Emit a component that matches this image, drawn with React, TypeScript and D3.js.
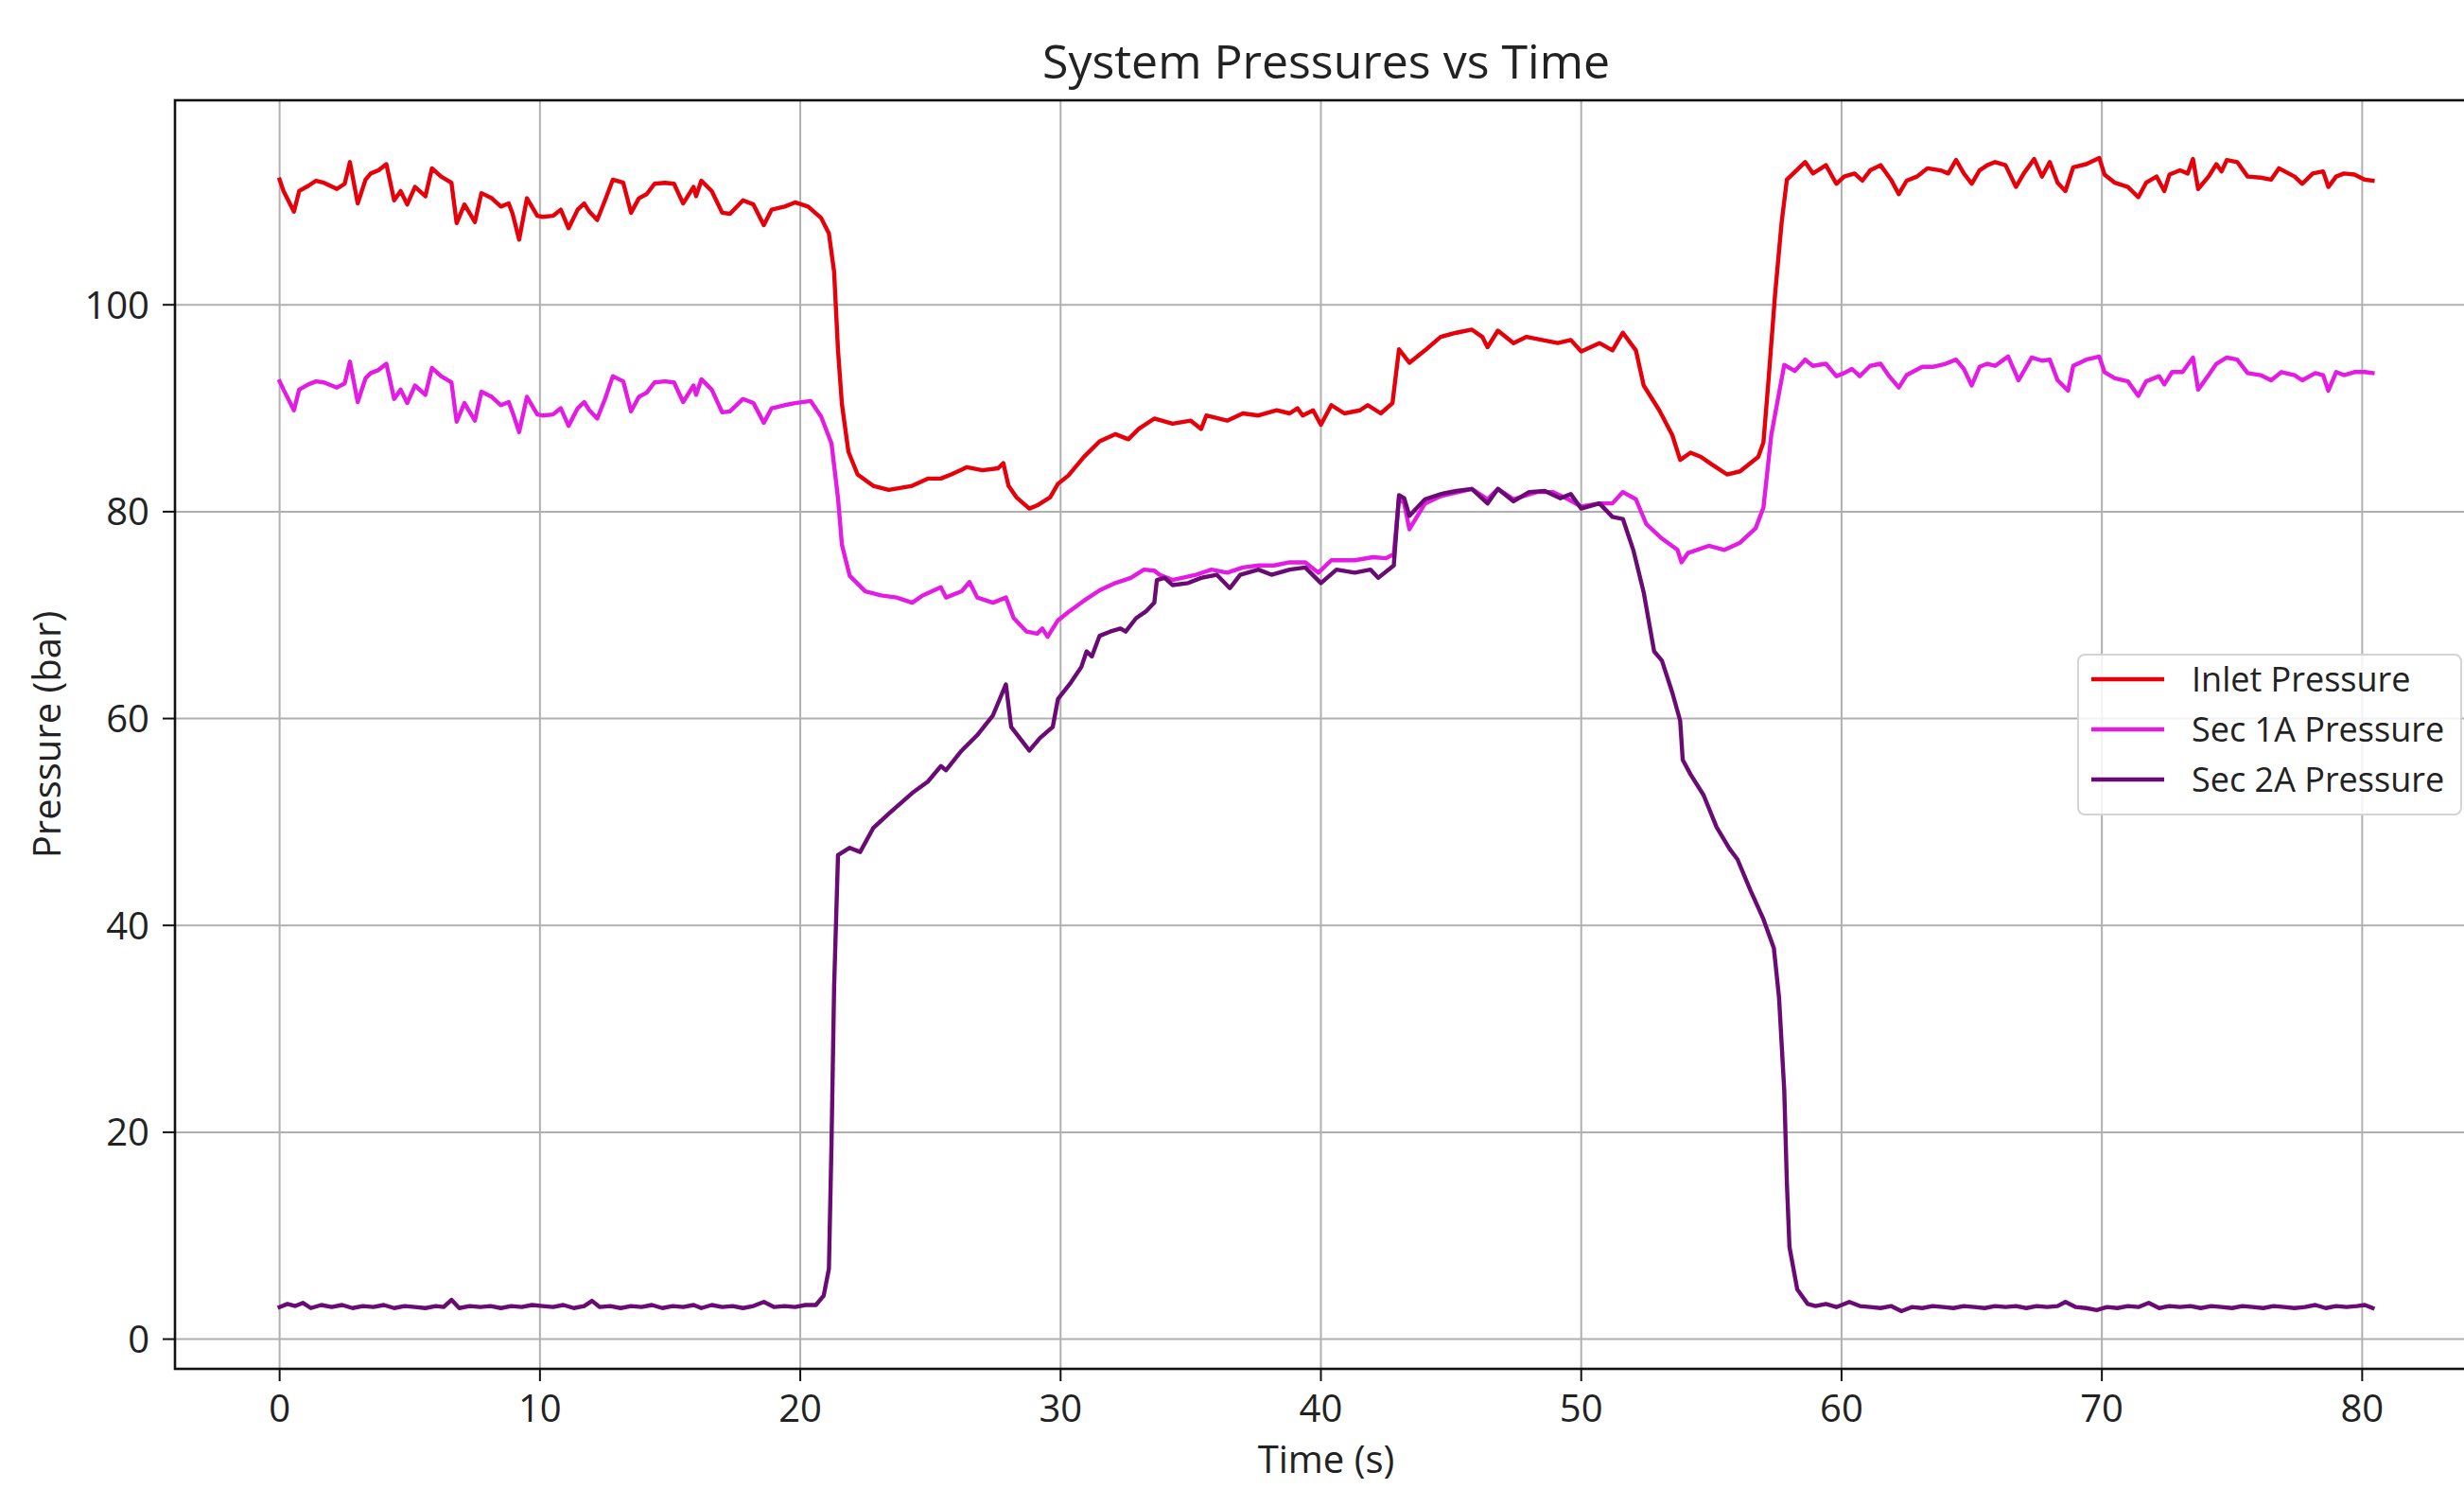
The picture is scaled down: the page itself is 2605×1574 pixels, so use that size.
import React from "react";
import * as d3 from "d3";

// Figure size and axes box (pixels)
const WIDTH = 2605;
const HEIGHT = 1574;
const AXES = { left: 185, top: 106, right: 2619, bottom: 1447 };
const FONT = "'Open Sans', 'DejaVu Sans', sans-serif";

const xTicks = [0, 10, 20, 30, 40, 50, 60, 70, 80];
const yTicks = [0, 20, 40, 60, 80, 100];

// [time (s), pressure (bar)]
const inletPressure: [number, number][] = [
  [0, 112.1], [0.15, 111], [0.55, 109], [0.75, 111], [1.1, 111.5], [1.4, 112], [1.7, 111.8], [2.2, 111.2],
  [2.5, 111.7], [2.7, 113.8], [3.0, 109.8], [3.3, 112.1], [3.5, 112.7], [3.8, 113], [4.1, 113.6], [4.4, 110.1],
  [4.65, 111], [4.9, 109.7], [5.2, 111.4], [5.6, 110.5], [5.85, 113.2], [6.2, 112.4], [6.6, 111.8], [6.8, 107.9],
  [7.1, 109.7], [7.5, 108], [7.75, 110.8], [8.15, 110.3], [8.5, 109.5], [8.8, 109.8], [8.95, 108.8], [9.2, 106.3],
  [9.5, 110.3], [9.9, 108.6], [10.1, 108.5], [10.5, 108.6], [10.8, 109.2], [11.1, 107.4], [11.45, 109.2], [11.7, 109.8],
  [11.9, 109], [12.2, 108.2], [12.5, 110.1], [12.8, 112.1], [13.2, 111.8], [13.5, 108.9], [13.8, 110.3], [14.1, 110.7],
  [14.4, 111.7], [14.8, 111.8], [15.15, 111.7], [15.5, 109.8], [15.9, 111.4], [16.0, 110.5], [16.2, 112], [16.6, 111],
  [17.0, 108.9], [17.3, 108.8], [17.8, 110.1], [18.2, 109.7], [18.6, 107.7], [18.9, 109.2], [19.4, 109.5], [19.8, 109.9],
  [20.3, 109.5], [20.8, 108.4], [21.1, 106.9], [21.3, 103.2], [21.45, 95.6], [21.6, 90.4], [21.85, 85.8], [22.2, 83.6],
  [22.8, 82.5], [23.4, 82.1], [24.3, 82.5], [24.9, 83.2], [25.4, 83.2], [25.8, 83.6], [26.4, 84.3], [27.0, 84.0],
  [27.6, 84.2], [27.8, 84.7], [28.0, 82.5], [28.3, 81.4], [28.8, 80.3], [29.1, 80.6], [29.6, 81.4], [29.9, 82.7],
  [30.3, 83.5], [30.9, 85.3], [31.5, 86.8], [32.1, 87.5], [32.6, 87.0], [33.0, 88.0], [33.6, 89.0], [34.3, 88.5],
  [35.0, 88.8], [35.4, 88.0], [35.6, 89.3], [36.4, 88.8], [37.0, 89.5], [37.6, 89.3], [38.3, 89.8], [38.8, 89.5],
  [39.1, 90.0], [39.3, 89.3], [39.7, 89.8], [40.0, 88.4], [40.4, 90.3], [40.9, 89.5], [41.5, 89.8], [41.8, 90.3],
  [42.3, 89.5], [42.75, 90.5], [43.0, 95.7], [43.4, 94.4], [44.0, 95.6], [44.6, 96.9], [45.2, 97.3], [45.8, 97.6],
  [46.2, 96.9], [46.4, 95.9], [46.8, 97.5], [47.4, 96.3], [47.9, 96.9], [48.5, 96.6], [49.1, 96.3], [49.6, 96.6],
  [50.0, 95.5], [50.7, 96.3], [51.2, 95.6], [51.6, 97.3], [52.1, 95.6], [52.4, 92.2], [53.0, 89.8], [53.5, 87.4],
  [53.8, 85.0], [54.2, 85.7], [54.6, 85.3], [55.0, 84.6], [55.6, 83.6], [56.1, 83.9], [56.8, 85.3], [57.0, 86.7],
  [57.2, 92.9], [57.45, 101.1], [57.7, 108], [57.9, 112.1], [58.6, 113.8], [58.9, 112.7], [59.4, 113.5], [59.8, 111.7],
  [60.1, 112.4], [60.5, 112.7], [60.8, 112.0], [61.1, 113.0], [61.5, 113.5], [61.9, 112.1], [62.2, 110.7], [62.5, 112.0],
  [62.9, 112.4], [63.3, 113.2], [63.8, 113.0], [64.1, 112.7], [64.4, 114.0], [64.7, 112.7], [65.0, 111.7], [65.3, 113.0],
  [65.6, 113.5], [65.9, 113.8], [66.3, 113.5], [66.7, 111.4], [67.0, 112.7], [67.4, 114.1], [67.7, 112.4], [68.0, 113.8],
  [68.3, 111.8], [68.6, 111.0], [68.9, 113.3], [69.4, 113.6], [69.9, 114.2], [70.1, 112.6], [70.5, 111.8], [71.0, 111.4],
  [71.4, 110.4], [71.7, 111.8], [72.1, 112.4], [72.4, 111.0], [72.6, 112.6], [73.0, 113.0], [73.3, 112.7], [73.5, 114.1],
  [73.7, 111.2], [74.1, 112.4], [74.4, 113.6], [74.6, 112.9], [74.8, 114.0], [75.2, 113.8], [75.6, 112.4], [76.1, 112.3],
  [76.5, 112.1], [76.8, 113.2], [77.4, 112.4], [77.7, 111.7], [78.1, 112.7], [78.5, 112.9], [78.7, 111.4], [79.0, 112.4],
  [79.3, 112.7], [79.7, 112.6], [80.1, 112.1], [80.4, 112.0],
];

const sec1APressure: [number, number][] = [
  [0, 92.6], [0.15, 91.8], [0.55, 89.8], [0.75, 91.8], [1.1, 92.3], [1.4, 92.6], [1.7, 92.5], [2.2, 92],
  [2.5, 92.4], [2.7, 94.5], [3.0, 90.6], [3.3, 92.9], [3.5, 93.4], [3.8, 93.7], [4.1, 94.3], [4.4, 90.9],
  [4.65, 91.8], [4.9, 90.5], [5.2, 92.2], [5.6, 91.3], [5.85, 93.9], [6.2, 93.1], [6.6, 92.5], [6.8, 88.7],
  [7.1, 90.5], [7.5, 88.8], [7.75, 91.6], [8.15, 91.1], [8.5, 90.3], [8.8, 90.6], [8.95, 89.6], [9.2, 87.7],
  [9.5, 91.1], [9.9, 89.4], [10.1, 89.3], [10.5, 89.4], [10.8, 90], [11.1, 88.3], [11.45, 90], [11.7, 90.6],
  [11.9, 89.8], [12.2, 89], [12.5, 90.9], [12.8, 93.1], [13.2, 92.6], [13.5, 89.7], [13.8, 91.1], [14.1, 91.5],
  [14.4, 92.5], [14.8, 92.6], [15.15, 92.5], [15.5, 90.6], [15.9, 92.2], [16.0, 91.3], [16.2, 92.8], [16.6, 91.8],
  [17.0, 89.6], [17.3, 89.7], [17.8, 90.9], [18.2, 90.5], [18.6, 88.6], [18.9, 90], [19.4, 90.3], [19.8, 90.5],
  [20.4, 90.7], [20.8, 89.2], [21.2, 86.6], [21.45, 81.3], [21.6, 76.8], [21.9, 73.8], [22.5, 72.3], [23.1, 71.9],
  [23.7, 71.7], [24.3, 71.2], [24.7, 71.9], [25.4, 72.7], [25.6, 71.7], [26.2, 72.3], [26.5, 73.2], [26.8, 71.7],
  [27.4, 71.2], [27.9, 71.7], [28.2, 69.7], [28.7, 68.4], [29.1, 68.2], [29.3, 68.7], [29.5, 67.9], [29.9, 69.5],
  [30.3, 70.3], [30.9, 71.4], [31.5, 72.4], [32.1, 73.1], [32.7, 73.6], [33.2, 74.4], [33.6, 74.3], [33.8, 73.9],
  [34.3, 73.4], [35.2, 73.9], [35.8, 74.4], [36.4, 74.1], [37.0, 74.6], [37.6, 74.8], [38.2, 74.8], [38.8, 75.1],
  [39.4, 75.1], [39.9, 74.1], [40.4, 75.3], [41.3, 75.3], [42.0, 75.6], [42.5, 75.5], [42.8, 75.9], [43.0, 81.3],
  [43.2, 80.8], [43.4, 78.3], [44.0, 80.8], [44.6, 81.5], [45.8, 82.2], [46.4, 81.2], [46.8, 82.2], [47.4, 81.2],
  [48.3, 81.9], [48.9, 81.9], [49.5, 81.2], [50.0, 80.5], [50.7, 80.8], [51.2, 80.8], [51.6, 81.9], [52.1, 81.2],
  [52.5, 78.8], [53.1, 77.4], [53.7, 76.3], [53.85, 75.1], [54.1, 76.0], [54.9, 76.7], [55.5, 76.3], [56.1, 77.0],
  [56.7, 78.4], [57.0, 80.4], [57.3, 87.4], [57.8, 94.2], [58.2, 93.6], [58.6, 94.7], [58.9, 94.1], [59.4, 94.3],
  [59.8, 93.1], [60.1, 93.4], [60.4, 93.8], [60.7, 93.1], [61.1, 94.1], [61.5, 94.3], [61.8, 93.2], [62.2, 92.0],
  [62.5, 93.2], [63.1, 94.0], [63.5, 94.0], [64.0, 94.3], [64.4, 94.7], [64.7, 93.8], [65.0, 92.2], [65.3, 94.0],
  [65.6, 94.3], [65.9, 94.1], [66.4, 95.0], [66.8, 92.7], [67.3, 94.9], [67.7, 94.6], [68.0, 94.7], [68.3, 92.7],
  [68.7, 91.7], [68.9, 94.1], [69.4, 94.7], [69.9, 95.0], [70.1, 93.5], [70.5, 92.9], [71.0, 92.6], [71.4, 91.2],
  [71.7, 92.6], [72.2, 93.1], [72.4, 92.3], [72.7, 93.5], [73.1, 93.5], [73.5, 94.9], [73.7, 91.8], [74.1, 93.2],
  [74.4, 94.3], [74.8, 94.9], [75.2, 94.7], [75.6, 93.4], [76.1, 93.2], [76.5, 92.7], [76.9, 93.5], [77.4, 93.2],
  [77.7, 92.7], [78.2, 93.4], [78.5, 93.2], [78.7, 91.7], [79.0, 93.5], [79.3, 93.2], [79.7, 93.5], [80.1, 93.5],
  [80.4, 93.4],
];

const sec2APressure: [number, number][] = [
  [0, 3.1], [0.3, 3.4], [0.6, 3.2], [0.9, 3.5], [1.2, 3.0], [1.6, 3.3], [2.0, 3.1], [2.4, 3.3],
  [2.8, 3.0], [3.2, 3.2], [3.6, 3.1], [4.0, 3.3], [4.4, 3.0], [4.8, 3.2], [5.2, 3.1], [5.6, 3.0],
  [6.0, 3.2], [6.3, 3.1], [6.6, 3.8], [6.9, 3.0], [7.3, 3.2], [7.7, 3.1], [8.1, 3.2], [8.5, 3.0],
  [8.9, 3.2], [9.3, 3.1], [9.7, 3.3], [10.1, 3.2], [10.5, 3.1], [10.9, 3.3], [11.3, 3.0], [11.7, 3.2],
  [12.0, 3.7], [12.3, 3.1], [12.7, 3.2], [13.1, 3.0], [13.5, 3.2], [13.9, 3.1], [14.3, 3.3], [14.7, 3.0],
  [15.1, 3.2], [15.5, 3.1], [15.9, 3.3], [16.2, 3.0], [16.6, 3.3], [17.0, 3.1], [17.4, 3.2], [17.8, 3.0],
  [18.2, 3.2], [18.6, 3.6], [19.0, 3.1], [19.4, 3.2], [19.8, 3.1], [20.2, 3.3], [20.6, 3.3], [20.9, 4.2],
  [21.1, 6.8], [21.2, 18.9], [21.3, 34], [21.45, 46.8], [21.9, 47.5], [22.3, 47.1], [22.8, 49.4], [23.4, 50.8],
  [24.3, 52.8], [24.9, 53.9], [25.4, 55.4], [25.6, 55.0], [26.2, 56.9], [26.8, 58.4], [27.4, 60.3], [27.9, 63.3],
  [28.1, 59.2], [28.8, 56.9], [29.2, 58.1], [29.7, 59.2], [29.9, 61.9], [30.4, 63.5], [30.8, 65], [31.0, 66.5],
  [31.2, 66], [31.5, 68], [31.9, 68.4], [32.3, 68.7], [32.5, 68.4], [32.9, 69.7], [33.3, 70.4], [33.6, 71.2],
  [33.7, 73.4], [34.0, 73.6], [34.3, 72.9], [34.9, 73.1], [35.4, 73.6], [36.0, 73.9], [36.5, 72.6], [36.9, 73.9],
  [37.6, 74.4], [38.1, 73.9], [38.8, 74.4], [39.4, 74.6], [40.0, 73.1], [40.6, 74.4], [41.3, 74.1], [41.9, 74.4],
  [42.2, 73.6], [42.8, 74.8], [43.0, 81.6], [43.2, 81.3], [43.4, 79.6], [44.0, 81.2], [44.6, 81.7], [45.2, 82.0],
  [45.8, 82.2], [46.4, 80.8], [46.8, 82.2], [47.4, 81.0], [48.0, 81.9], [48.6, 82.0], [49.2, 81.3], [49.6, 81.7],
  [50.0, 80.3], [50.7, 80.8], [51.2, 79.5], [51.6, 79.3], [52.0, 76.3], [52.4, 72.2], [52.8, 66.5], [53.1, 65.6],
  [53.5, 62.5], [53.8, 59.8], [53.9, 56.0], [54.2, 54.6], [54.7, 52.6], [55.2, 49.5], [55.7, 47.4], [56.0, 46.4],
  [56.5, 43.4], [57.0, 40.6], [57.4, 37.8], [57.6, 33.0], [57.8, 24.0], [57.9, 15.1], [58.0, 8.9], [58.3, 4.8],
  [58.7, 3.4], [59.0, 3.2], [59.4, 3.4], [59.8, 3.1], [60.3, 3.6], [60.7, 3.2], [61.1, 3.1], [61.5, 3.0],
  [61.9, 3.2], [62.3, 2.7], [62.7, 3.1], [63.1, 3.0], [63.5, 3.2], [63.9, 3.1], [64.3, 3.0], [64.7, 3.2],
  [65.1, 3.1], [65.5, 3.0], [65.9, 3.2], [66.3, 3.1], [66.7, 3.2], [67.1, 3.0], [67.5, 3.2], [67.9, 3.1],
  [68.3, 3.2], [68.6, 3.6], [69.0, 3.1], [69.4, 3.0], [69.8, 2.8], [70.2, 3.1], [70.6, 3.0], [71.0, 3.2],
  [71.4, 3.1], [71.8, 3.5], [72.2, 3.0], [72.6, 3.2], [73.0, 3.1], [73.4, 3.2], [73.8, 3.0], [74.2, 3.2],
  [74.6, 3.1], [75.0, 3.0], [75.4, 3.2], [75.8, 3.1], [76.2, 3.0], [76.6, 3.2], [77.0, 3.1], [77.4, 3.0],
  [77.8, 3.1], [78.2, 3.3], [78.6, 3.0], [79.0, 3.2], [79.4, 3.1], [79.8, 3.2], [80.1, 3.3], [80.4, 3.0],
];

const seriesNames = ["Inlet Pressure", "Sec 1A Pressure", "Sec 2A Pressure"];
const seriesColors = ["#e5000a", "#e31be3", "#6a0a74"];
const seriesData = [inletPressure, sec1APressure, sec2APressure];

export default function App() {
  const all = seriesData.flat();
  const [tMin, tMax] = d3.extent(all, (d) => d[0]) as [number, number];
  const [vMin, vMax] = d3.extent(all, (d) => d[1]) as [number, number];
  const tPad = (tMax - tMin) * 0.05;
  const vPad = (vMax - vMin) * 0.05;

  const x = d3.scaleLinear().domain([tMin - tPad, tMax + tPad]).range([AXES.left, AXES.right]);
  const y = d3.scaleLinear().domain([vMin - vPad, vMax + vPad]).range([AXES.bottom, AXES.top]);

  const line = d3
    .line<[number, number]>()
    .x((d) => x(d[0]))
    .y((d) => y(d[1]));

  const tickLen = 13;
  const cx = (AXES.left + AXES.right) / 2;
  const cy = (AXES.top + AXES.bottom) / 2;

  // legend box anchored at the centre right of the axes
  const legW = 405;
  const legH = 169;
  const legRight = AXES.right - 17;
  const legLeft = legRight - legW;
  const legTop = cy - legH / 2;
  const rowGap = 53;

  return (
    <svg
      width={WIDTH}
      height={HEIGHT}
      viewBox={`0 0 ${WIDTH} ${HEIGHT}`}
      style={{ position: "absolute", left: 0, top: 0, display: "block", background: "#fff" }}
      fontFamily={FONT}
    >
      <rect x={0} y={0} width={WIDTH} height={HEIGHT} fill="#fff" />

      {/* grid */}
      <g stroke="#b0b0b0" strokeWidth={2}>
        {xTicks.map((t) => (
          <line key={`gx${t}`} x1={x(t)} x2={x(t)} y1={AXES.top} y2={AXES.bottom} />
        ))}
        {yTicks.map((v) => (
          <line key={`gy${v}`} x1={AXES.left} x2={AXES.right} y1={y(v)} y2={y(v)} />
        ))}
      </g>

      {/* series */}
      {seriesData.map((data, i) => (
        <path
          key={seriesNames[i]}
          d={line(data) ?? ""}
          fill="none"
          stroke={seriesColors[i]}
          strokeWidth={4.4}
          strokeLinejoin="round"
          strokeLinecap="square"
        />
      ))}

      {/* spines */}
      <rect
        x={AXES.left}
        y={AXES.top}
        width={AXES.right - AXES.left}
        height={AXES.bottom - AXES.top}
        fill="none"
        stroke="#111"
        strokeWidth={2.6}
      />

      {/* x axis ticks */}
      <g>
        {xTicks.map((t) => (
          <g key={`xt${t}`}>
            <line x1={x(t)} x2={x(t)} y1={AXES.bottom} y2={AXES.bottom + tickLen} stroke="#111" strokeWidth={2} />
            <text x={x(t)} y={AXES.bottom + 56} textAnchor="middle" fontSize={40} fill="#222">
              {t}
            </text>
          </g>
        ))}
      </g>

      {/* y axis ticks */}
      <g>
        {yTicks.map((v) => (
          <g key={`yt${v}`}>
            <line x1={AXES.left - tickLen} x2={AXES.left} y1={y(v)} y2={y(v)} stroke="#111" strokeWidth={2} />
            <text x={AXES.left - 27} y={y(v) + 14.5} textAnchor="end" fontSize={40} fill="#222">
              {v}
            </text>
          </g>
        ))}
      </g>

      {/* axis labels */}
      <text x={cx} y={1557} textAnchor="middle" fontSize={40} fill="#222">
        Time (s)
      </text>
      <text
        transform={`translate(64, ${cy}) rotate(-90)`}
        textAnchor="middle"
        fontSize={40}
        fill="#222"
      >
        Pressure (bar)
      </text>

      {/* title */}
      <text x={cx} y={83} textAnchor="middle" fontSize={50} fill="#222">
        System Pressures vs Time
      </text>

      {/* legend */}
      <g>
        <rect
          x={legLeft}
          y={legTop}
          width={legW}
          height={legH}
          rx={7}
          fill="#fff"
          fillOpacity={0.85}
          stroke="#d4d4d4"
          strokeWidth={2}
        />
        {seriesNames.map((name, i) => {
          const ly = legTop + 26 + i * rowGap;
          return (
            <g key={`leg${name}`}>
              <line
                x1={legLeft + 14}
                x2={legLeft + 91}
                y1={ly}
                y2={ly}
                stroke={seriesColors[i]}
                strokeWidth={4.4}
              />
              <text x={legLeft + 120} y={ly + 13} fontSize={36} fill="#222">
                {name}
              </text>
            </g>
          );
        })}
      </g>
    </svg>
  );
}
